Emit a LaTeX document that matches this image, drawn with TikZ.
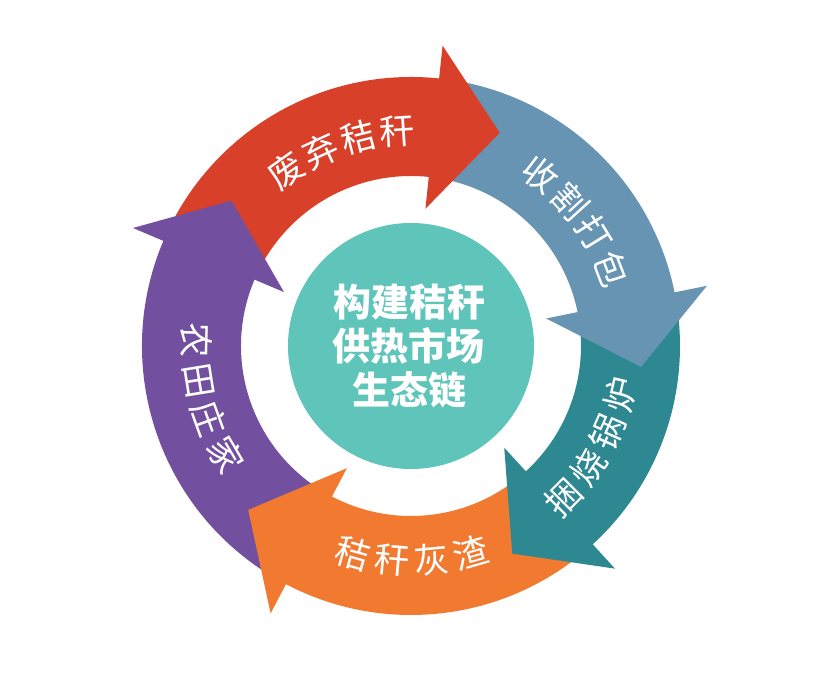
\documentclass[tikz,border=0pt]{standalone}
\usepackage{fontspec}
\newfontfamily\cjk{Noto Sans CJK SC}
\usepackage{tikz}
\definecolor{strawred}{HTML}{D8402A}
\definecolor{balesteel}{HTML}{6894B4}
\definecolor{boilteal}{HTML}{2E8892}
\definecolor{ashorange}{HTML}{F27A30}
\definecolor{farmpurple}{HTML}{72509F}
\definecolor{hubteal}{HTML}{5FC4B9}
\tikzset{
  ringtxt/.style={text=white,font=\cjk\fontsize{35}{35}\selectfont,inner sep=0pt},
  hub/.style={circle,fill=hubteal,minimum size=246pt,inner sep=0pt},
  hubtxt/.style={text=white,align=center,font=\cjk\bfseries\fontsize{38}{44}\selectfont},
}
% one label, one glyph at a time along the ring
\newcommand\ringlabel[4]{%
  \foreach \ch [count=\i] in {#4}{
    \pgfmathsetmacro\ang{#2+(#3)*(\i-2.5)*10.6}
    \pgfmathsetmacro\rot{\ang+(#3)*90}
    \node[ringtxt,rotate=\rot] (#1\i) at (\ang:215pt) {\ch};
  }}
\begin{document}
\begin{tikzpicture}
  \fill[white] (-411pt,-336pt) rectangle (410pt,346pt);
  \useasboundingbox (-411pt,-336pt) rectangle (410pt,346pt);
  % ring bodies first, then the heads on top
  \foreach \col/\tail/\base/\tip in {strawred/155/84/67.4,balesteel/82/11.5/-5.2,boilteal/9.5/-47.5/-64,ashorange/-49.5/-117.7/-134.8,farmpurple/240.3/157/141}{
    \fill[\col] (\tail:269pt) arc[start angle=\tail,end angle=\base-1,radius=269pt]
      -- (\base-1:170pt) arc[start angle=\base-1,end angle=\tail,radius=170pt] -- cycle;
  }
  \foreach \col/\tail/\base/\tip in {strawred/155/84/67.4,balesteel/82/11.5/-5.2,boilteal/9.5/-47.5/-64,ashorange/-49.5/-117.7/-134.8,farmpurple/240.3/157/141}{
    \fill[\col] (\base:138pt) -- (\base:302pt) -- (\tip:231pt) -- cycle;
  }
  \ringlabel{waste}{109.5}{-1}{废,弃,秸,秆}
  \ringlabel{bale}{37}{-1}{收,割,打,包}
  \ringlabel{boiler}{-29}{1}{捆,烧,锅,炉}
  \ringlabel{ash}{-89.8}{1}{秸,秆,灰,渣}
  \ringlabel{farm}{194.5}{1}{农,田,庄,家}
  \node[hub] (hub) at (0,0) {};
  \node[hubtxt] (hubtext) at (-2pt,0pt) {构建秸秆\\供热市场\\生态链};
\end{tikzpicture}
\end{document}
